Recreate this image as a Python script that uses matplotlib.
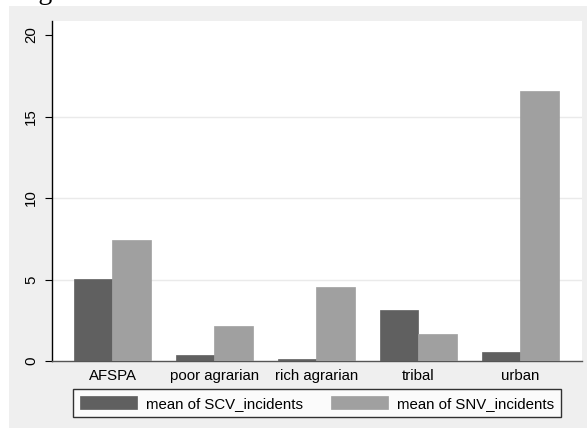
import numpy as np
import matplotlib
matplotlib.use('Agg')
from matplotlib import pyplot as plt
from matplotlib.patches import Rectangle

# mean incidents by region type
categories = ['AFSPA', 'poor agrarian', 'rich agrarian', 'tribal', 'urban']
scv_mean = [5.03, 0.37, 0.12, 3.13, 0.53]
snv_mean = [7.42, 2.17, 4.57, 1.64, 16.58]
series_labels = ['mean of SCV_incidents', 'mean of SNV_incidents']
yticks = [0, 5, 10, 15, 20]

W, H = 587, 430
plt.rcParams['font.family'] = ['Liberation Sans', 'DejaVu Sans']
fig = plt.figure(figsize=(W / 100, H / 100), dpi=100, facecolor='white')

# stata-style gray graph region
fig.patches.append(Rectangle((9 / W, (H - 428) / H), (W - 9) / W, (428 - 6) / H,
                             transform=fig.transFigure, facecolor='#efefef',
                             edgecolor='none', zorder=-10))

# cropped title fragment at the very top
fig.text(15 / W, 1 + 1 / H, 'Figure', family='Liberation Serif', fontsize=20,
         va='baseline', ha='left')

ax = fig.add_axes([52 / W, (H - 361) / H, (582 - 52) / W, (361 - 21) / H])
ax.set_facecolor('white')

x = np.arange(len(categories))
w = 0.377
c1, c2 = '#606060', '#a0a0a0'
b1 = ax.bar(x - w / 2, scv_mean, w, color=c1, edgecolor=c1, linewidth=0.5, zorder=3,
            label=series_labels[0])
b2 = ax.bar(x + w / 2, snv_mean, w, color=c2, edgecolor=c2, linewidth=0.5, zorder=3,
            label=series_labels[1])

for yv in yticks[1:-1]:
    ax.axhline(yv, color='#eaeaea', linewidth=1, zorder=1)

ax.set_xlim(-0.593, 4.603)
ax.set_ylim(0, 20.86)
ax.set_xticks(x)
ax.set_xticklabels(categories, fontsize=10.8)
ax.tick_params(axis='x', length=0, pad=6)
ax.set_yticks(yticks)
ax.set_yticklabels([str(v) for v in yticks], fontsize=10.8, rotation=90, va='center')
ax.tick_params(axis='y', length=5, width=0.8, pad=5, color='black')

for s in ['top', 'right']:
    ax.spines[s].set_visible(False)
ax.spines['left'].set_color('black')
ax.spines['left'].set_linewidth(1)
ax.spines['bottom'].set_color('#555555')
ax.spines['bottom'].set_linewidth(1)

leg = fig.legend(handles=[b1, b2], labels=series_labels, ncol=2,
                 loc='upper center', bbox_to_anchor=(317 / W, 1 - 389 / H),
                 fontsize=10.8, frameon=True, fancybox=False, edgecolor='black',
                 handlelength=3.8, handleheight=1.0, handletextpad=0.6,
                 columnspacing=1.9, borderpad=0.45, borderaxespad=0)
leg.get_frame().set_linewidth(1)
leg.get_frame().set_facecolor('white')

fig.savefig('out.png', dpi=100, facecolor='white')
